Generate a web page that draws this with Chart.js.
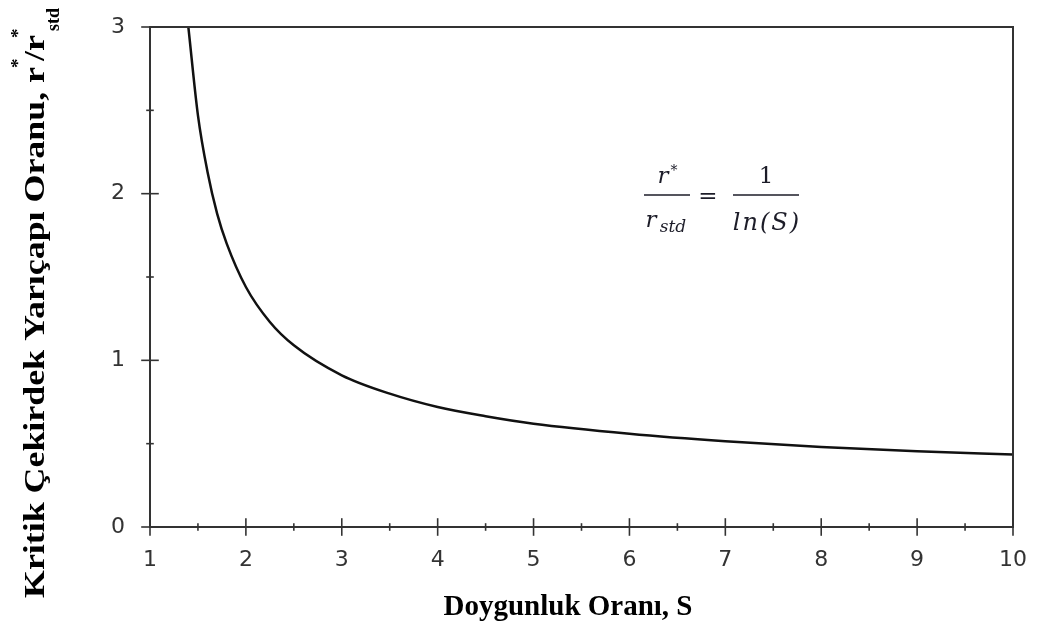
<!DOCTYPE html>
<html>
<head>
<meta charset="utf-8">
<script src="https://cdn.jsdelivr.net/npm/chart.js@4.4.1/dist/chart.umd.min.js"></script>
<style>
  html, body { margin: 0; padding: 0; background: #ffffff; }
  #wrap { width: 1040px; height: 639px; position: relative; }
</style>
</head>
<body>
<div id="wrap"><canvas id="c" width="1040" height="639"></canvas></div>
<script>
// ---- data ----
const saturationRatio = [1.4, 1.5, 1.6, 1.7, 1.8, 2.0, 2.25, 2.5, 3.0, 3.5, 4.0, 4.5, 5.0, 6.0, 7.0, 8.0, 9.0, 10.0];
const radiusRatio     = [3.0, 2.47, 2.13, 1.88, 1.70, 1.44, 1.23, 1.09, 0.91, 0.80, 0.72, 0.665, 0.62, 0.56, 0.515, 0.48, 0.455, 0.435];
const xTickLabels = [1, 2, 3, 4, 5, 6, 7, 8, 9, 10];
const yTickLabels = [0, 1, 2, 3];
const xTitle = "Doygunluk Oranı, S";
const yTitleMain = "Kritik Çekirdek Yarıçapı Oranu, r";
const yTitleSlash = "/r";
const yTitleSup = "*";
const yTitleSub = "std";

const points = saturationRatio.map((s, i) => ({ x: s, y: radiusRatio[i] }));

const AXIS_COLOR = '#333333';

const framePlugin = {
  id: 'framePlugin',
  afterDatasetsDraw(chart) {
    const { ctx, chartArea: a, scales } = chart;
    const xs = scales.x, ys = scales.y;
    ctx.save();
    ctx.strokeStyle = AXIS_COLOR;
    ctx.lineWidth = 2;
    ctx.lineCap = 'square';
    ctx.strokeRect(a.left, a.top, a.right - a.left, a.bottom - a.top);
    ctx.lineWidth = 1.6;
    for (let v = xs.min; v <= xs.max + 1e-9; v += 0.5) {
      const px = xs.getPixelForValue(v);
      const major = Math.abs(v - Math.round(v)) < 1e-9;
      const h = major ? 8 : 3;
      ctx.beginPath();
      ctx.moveTo(px, a.bottom - h);
      ctx.lineTo(px, a.bottom + h);
      ctx.stroke();
    }
    for (let v = ys.min; v <= ys.max + 1e-9; v += 0.5) {
      const py = ys.getPixelForValue(v);
      const major = Math.abs(v - Math.round(v)) < 1e-9;
      const w = major ? 8 : 3;
      ctx.beginPath();
      ctx.moveTo(a.left - w, py);
      ctx.lineTo(a.left + w, py);
      ctx.stroke();
    }
    ctx.restore();
  },
  afterDraw(chart) {
    const { ctx } = chart;
    ctx.save();
    ctx.fillStyle = '#000000';
    ctx.font = 'bold 29px "Liberation Serif", "Times New Roman", serif';
    ctx.textAlign = 'center';
    ctx.textBaseline = 'alphabetic';
    ctx.fillText(xTitle, 568, 615);
    ctx.restore();

    // y axis title (rotated), running from y=598 up to the top, with sup/sub parts
    ctx.save();
    ctx.fillStyle = '#000000';
    ctx.textAlign = 'left';
    ctx.textBaseline = 'alphabetic';
    const mainFont = 'bold 30px "Liberation Serif", "Times New Roman", serif';
    const supFont = 'bold 19px "Liberation Serif", "Times New Roman", serif';
    const subFont = 'bold 18px "Liberation Serif", "Times New Roman", serif';
    ctx.font = mainFont;
    const wMain = ctx.measureText(yTitleMain).width;
    const startY = 598, mainEndY = 67;
    const stretch = (startY - mainEndY) / wMain;
    ctx.translate(44, startY);
    ctx.rotate(-Math.PI / 2);
    ctx.save();
    ctx.scale(stretch, 1);
    ctx.fillText(yTitleMain, 0, 0);
    ctx.restore();
    let x = startY - mainEndY;
    ctx.font = supFont;
    ctx.fillText(yTitleSup, x - 1, -20);
    x += 6;
    ctx.font = mainFont;
    ctx.save();
    ctx.translate(x, 0);
    ctx.scale(stretch, 1);
    ctx.fillText(yTitleSlash, 0, 0);
    ctx.restore();
    ctx.font = mainFont;
    x += ctx.measureText(yTitleSlash).width * stretch;
    ctx.font = supFont;
    ctx.fillText(yTitleSup, x - 3, -20);
    ctx.font = subFont;
    ctx.fillText(yTitleSub, x + 4, 15);
    ctx.restore();

    // equation annotation
    ctx.save();
    ctx.fillStyle = '#1c1c28';
    ctx.strokeStyle = '#1c1c28';
    ctx.textAlign = 'center';
    ctx.textBaseline = 'alphabetic';
    const ef = 'italic 23px "DejaVu Serif", "Liberation Serif", serif';
    ctx.font = ef;
    ctx.fillText('r', 663, 183);
    ctx.font = 'italic 14px "DejaVu Serif", "Liberation Serif", serif';
    ctx.fillText('*', 674, 175);
    ctx.font = ef;
    ctx.fillText('r', 651, 227);
    ctx.font = 'italic 17px "DejaVu Serif", "Liberation Serif", serif';
    ctx.fillText('std', 673, 232);
    ctx.lineWidth = 1.6;
    ctx.beginPath(); ctx.moveTo(644, 195); ctx.lineTo(690, 195); ctx.stroke();
    ctx.font = '23px "DejaVu Serif", "Liberation Serif", serif';
    ctx.fillText('=', 708, 203);
    ctx.fillText('1', 766, 183);
    ctx.beginPath(); ctx.moveTo(733, 195); ctx.lineTo(799, 195); ctx.stroke();
    ctx.font = 'italic 24px "DejaVu Serif", "Liberation Serif", serif';
    ctx.letterSpacing = '2px';
    ctx.fillText('ln(S)', 767, 230);
    ctx.restore();
  }
};

new Chart(document.getElementById('c'), {
  type: 'line',
  data: {
    datasets: [{
      data: points,
      borderColor: '#111111',
      borderWidth: 2.5,
      pointRadius: 0,
      fill: false,
      cubicInterpolationMode: 'monotone'
    }]
  },
  options: {
    responsive: false,
    animation: false,
    devicePixelRatio: 1,
    layout: { padding: { top: 27, right: 27, left: 0, bottom: 0 } },
    plugins: { legend: { display: false }, tooltip: { enabled: false }, title: { display: false } },
    scales: {
      x: {
        type: 'linear',
        min: 1, max: 10,
        grid: { display: false },
        border: { display: false },
        afterBuildTicks: (s) => { s.ticks = xTickLabels.map(v => ({ value: v })); },
        ticks: {
          color: '#333333',
          font: { family: '"DejaVu Sans", sans-serif', size: 22 },
          padding: 12,
          maxRotation: 0,
          autoSkip: false
        },
        afterFit: (s) => { s.height = 112; s.paddingLeft = 0; s.paddingRight = 0; }
      },
      y: {
        type: 'linear',
        min: 0, max: 3,
        grid: { display: false },
        border: { display: false },
        afterBuildTicks: (s) => { s.ticks = yTickLabels.map(v => ({ value: v })); },
        ticks: {
          color: '#333333',
          font: { family: '"DejaVu Sans", sans-serif', size: 22 },
          padding: 17
        },
        afterFit: (s) => { s.width = 150; s.paddingTop = 0; s.paddingBottom = 0; }
      }
    }
  },
  plugins: [framePlugin]
});
</script>
</body>
</html>
